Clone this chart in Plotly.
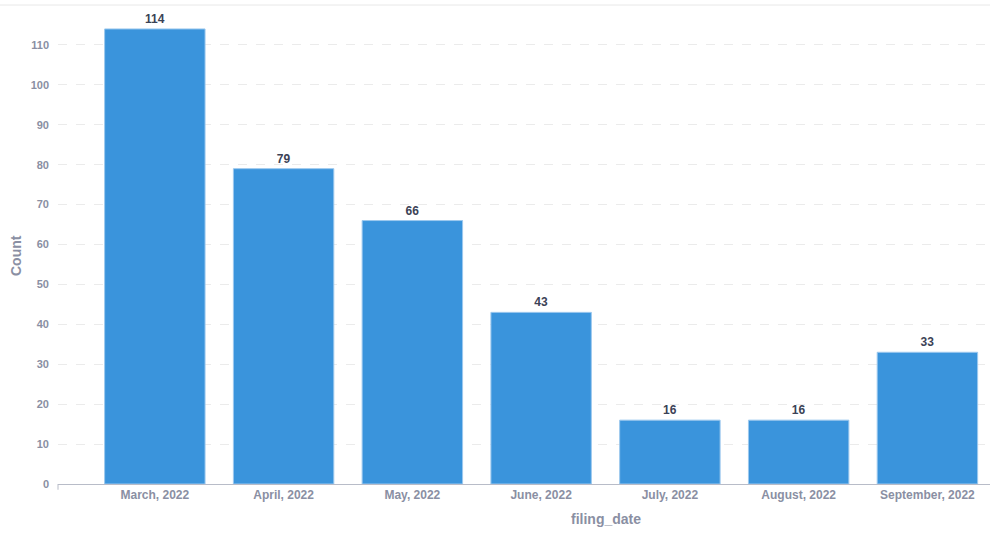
import plotly.graph_objects as go

categories = ["March, 2022", "April, 2022", "May, 2022", "June, 2022",
              "July, 2022", "August, 2022", "September, 2022"]
counts = [114, 79, 66, 43, 16, 16, 33]
y_ticks = [0, 10, 20, 30, 40, 50, 60, 70, 80, 90, 100, 110]

FONT = "Liberation Sans, Arial, sans-serif"
TICK_COLOR = "#8a8fa3"

fig = go.Figure(
    go.Bar(
        x=list(range(len(categories))),
        y=counts,
        text=[f"<b>{c}</b>" for c in counts],
        textposition="outside",
        textfont=dict(family=FONT, size=12, color="#3b4256"),
        marker=dict(color="#3a94dc", line=dict(color="#9cc8ee", width=1)),
        cliponaxis=False,
    )
)

fig.update_layout(
    width=990, height=548,
    margin=dict(l=58, r=0, t=5, b=64),
    paper_bgcolor="white", plot_bgcolor="white",
    bargap=0.22,
    showlegend=False,
    font=dict(family=FONT, color=TICK_COLOR),
)

fig.update_xaxes(
    range=[-0.752, 6.486],
    tickmode="array",
    tickvals=list(range(len(categories))),
    ticktext=[f"<b>{c}</b>" for c in categories],
    tickfont=dict(size=12, color=TICK_COLOR),
    showgrid=False,
    showline=True, linecolor="#b8bcc8", linewidth=1,
    ticks="",
    zeroline=False,
)

fig.update_yaxes(
    range=[0, 120],
    tickmode="array",
    tickvals=y_ticks,
    ticktext=[f"<b>{t}</b>" for t in y_ticks],
    tickfont=dict(size=11, color=TICK_COLOR),
    showgrid=True, gridcolor="#ebebeb", griddash="dash", gridwidth=1,
    zeroline=False,
    showline=False,
    ticks="",
    ticklabelstandoff=8,
)

# y-axis title
fig.add_annotation(text="<b>Count</b>", xref="paper", yref="paper",
                   x=(16 - 58) / 932, y=(484 - 256) / 479, xanchor="center", yanchor="middle",
                   textangle=-90, showarrow=False, font=dict(size=14, color=TICK_COLOR))

# x-axis title
fig.add_annotation(text="<b>filing_date</b>", xref="paper", yref="paper",
                   x=(606 - 58) / 932, y=-0.074, xanchor="center", yanchor="middle",
                   showarrow=False, font=dict(size=14, color=TICK_COLOR))

# top border line
fig.add_shape(type="line", xref="paper", yref="paper", x0=-0.07, x1=1, y0=1, y1=1,
              line=dict(color="#e8e8e8", width=1))
# small tick at origin
fig.add_shape(type="line", xref="paper", yref="paper", x0=0, x1=0, y0=0, y1=-0.012,
              line=dict(color="#b8bcc8", width=1))

fig.write_html("out.html", config={"displayModeBar": False},
               post_script="document.body.style.margin='0';document.body.style.overflow='hidden';")
